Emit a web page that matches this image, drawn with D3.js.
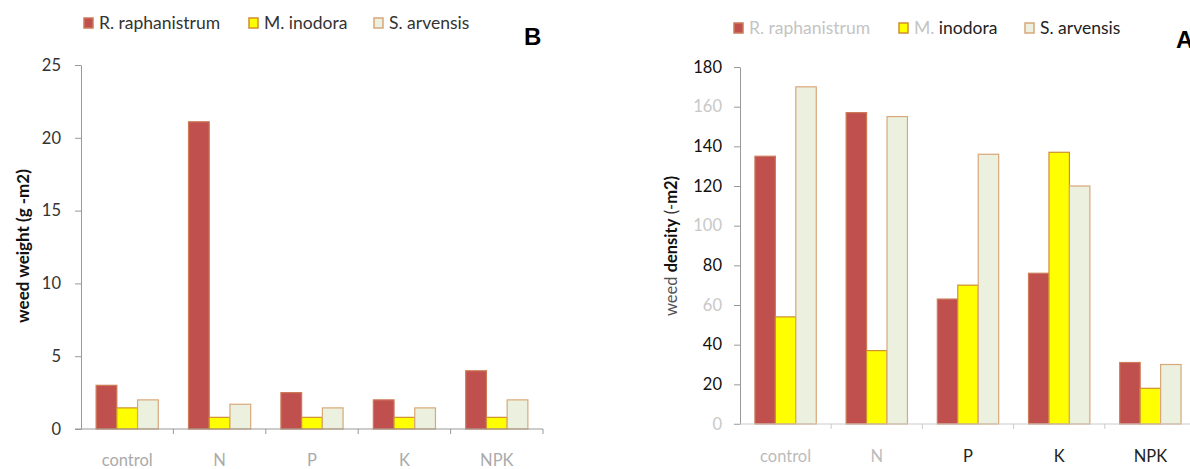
<!DOCTYPE html>
<html>
<head>
<meta charset="utf-8">
<script src="https://cdn.jsdelivr.net/npm/d3@7"></script>
<style>
  body { margin: 0; background: #fff; }
  svg { display: block; font-family: Lato, 'Open Sans', sans-serif; }
</style>
</head>
<body>
<svg id="chart" width="1190" height="469"></svg>
<script>
// treatments and species
const categories = ['control', 'N', 'P', 'K', 'NPK']
const species = ['R. raphanistrum', 'M. inodora', 'S. arvensis']

// panel B: weed weight (g m-2)
const weightR = [3.0, 21.1, 2.5, 2.0, 4.0]
const weightM = [1.45, 0.8, 0.8, 0.8, 0.8]
const weightS = [2.0, 1.7, 1.45, 1.45, 2.0]
const weightTicks = [0, 5, 10, 15, 20, 25]

// panel A: weed density (m-2)
const densityR = [135, 157, 63, 76, 31]
const densityM = [54, 37, 70, 137, 18]
const densityS = [170, 155, 136, 120, 30]
const densityTicks = [0, 20, 40, 60, 80, 100, 120, 140, 160, 180]

const fills = ['#C0504D', '#FFFF00', '#EBF1DE']
const strokes = ['#cc7a58', '#cf8f2e', '#d9a77a']

const svg = d3.select('#chart')

function toRows(seriesList) {
    return categories.map((c, i) => {
        const row = { cat: c }
        species.forEach((s, j) => { row[s] = seriesList[j][i] })
        return row
    })
}

function drawPanel(opts) {
    const g = svg.append('g')
    const x0 = d3.scaleBand().domain(categories).range(opts.xRange).padding(0)
    const x1 = d3.scaleBand().domain(species).range([0, x0.bandwidth()]).paddingInner(0).paddingOuter(0.73)
    const y = d3.scaleLinear().domain([0, opts.yMax]).range(opts.yRange)
    const rows = toRows(opts.series)

    // bars
    g.append('g')
        .selectAll('g')
        .data(rows)
        .join('g')
        .attr('transform', d => `translate(${x0(d.cat)},0)`)
        .selectAll('rect')
        .data(d => species.map((s, j) => ({ key: s, j, value: d[s] })))
        .join('rect')
        .attr('x', d => x1(d.key))
        .attr('width', x1.bandwidth())
        .attr('y', d => y(d.value))
        .attr('height', d => y(0) - y(d.value))
        .attr('fill', d => fills[d.j])
        .attr('stroke', d => strokes[d.j])
        .attr('stroke-width', 1.2)

    // y axis
    const yAxis = g.append('g')
        .attr('transform', `translate(${opts.xRange[0]},0)`)
        .call(d3.axisLeft(y).tickValues(opts.ticks).tickSize(6).tickPadding(opts.tickPad).tickSizeOuter(0))
    yAxis.select('.domain').attr('stroke', '#999')
    yAxis.selectAll('.tick line').attr('stroke', '#999')
    yAxis.selectAll('.tick text')
        .attr('font-size', 16.5)
        .attr('font-family', 'Lato, sans-serif')
        .attr('fill', (d, i) => opts.yTickColor(i))

    // x axis (ticks on category boundaries)
    const xg = g.append('g').attr('transform', `translate(0,${opts.yRange[0]})`)
    xg.append('line')
        .attr('x1', opts.xRange[0] - 6).attr('x2', opts.xRange[1])
        .attr('stroke', opts.xLineColor)
    xg.selectAll('line.tk')
        .data(categories.slice(1).concat(['end']))
        .join('line')
        .attr('class', 'tk')
        .attr('x1', d => d === 'end' ? opts.xRange[1] : x0(d))
        .attr('x2', d => d === 'end' ? opts.xRange[1] : x0(d))
        .attr('y1', 0).attr('y2', 5)
        .attr('stroke', opts.xLineColor)
    xg.selectAll('text')
        .data(categories)
        .join('text')
        .attr('x', d => x0(d) + x0.bandwidth() / 2)
        .attr('y', opts.xLabelY - opts.yRange[0])
        .attr('text-anchor', 'middle')
        .attr('font-size', 16.5)
        .attr('fill', (d, i) => opts.xLabelColor(i))
        .text(d => d)

    // legend
    const leg = g.append('g')
    species.forEach((s, j) => {
        const lx = opts.legendX[j]
        leg.append('rect')
            .attr('x', lx).attr('y', opts.legendY - 11)
            .attr('width', 9).attr('height', 10)
            .attr('fill', fills[j]).attr('stroke', strokes[j]).attr('stroke-width', 1.5)
        const t = leg.append('text')
            .attr('x', lx + 15).attr('y', opts.legendY)
            .attr('font-size', 17.5)
        opts.legendParts[j].forEach(p => {
            t.append('tspan').attr('fill', p[1]).text(p[0])
        })
    })

    // panel letter
    g.append('text')
        .attr('x', opts.letterX).attr('y', opts.letterY)
        .attr('font-family', "'Liberation Sans', Arial, sans-serif")
        .attr('font-weight', 'bold')
        .attr('font-size', 24)
        .attr('fill', '#000')
        .text(opts.letter)

    // y title
    const title = g.append('text')
        .attr('transform', `translate(${opts.titleX},${opts.titleY}) rotate(-90)`)
        .attr('text-anchor', 'middle')
        .attr('dominant-baseline', 'central')
        .attr('font-size', opts.titleSize)
    opts.titleParts.forEach(p => {
        title.append('tspan').attr('fill', p[1]).attr('font-weight', p[2]).text(p[0])
    })
}

// panel B (left)
drawPanel({
    series: [weightR, weightM, weightS],
    yMax: 25,
    ticks: weightTicks,
    xRange: [81, 543],
    yRange: [429, 65],
    tickPad: 14,
    yTickColor: () => '#333',
    xLineColor: '#999',
    xLabelY: 466,
    xLabelColor: () => '#aaa',
    legendX: [84, 249, 374],
    legendY: 29,
    legendParts: [[['R. raphanistrum', '#333']], [['M. inodora', '#333']], [['S. arvensis', '#333']]],
    letter: 'B',
    letterX: 524,
    letterY: 45,
    titleX: 22,
    titleY: 246,
    titleSize: 17,
    titleParts: [['weed weight (g -m2)', '#111', 'bold']]
})

// panel A (right)
const lightIdx = [0, 3, 5, 8]
drawPanel({
    series: [densityR, densityM, densityS],
    yMax: 180,
    ticks: densityTicks,
    xRange: [740, 1196],
    yRange: [424, 67],
    tickPad: 12,
    yTickColor: i => lightIdx.includes(i) ? '#c8c8c8' : '#111',
    xLineColor: '#ccc',
    xLabelY: 462,
    xLabelColor: i => i < 2 ? '#bbb' : '#222',
    legendX: [734, 899, 1025],
    legendY: 34,
    legendParts: [[['R. raphanistrum', '#c4c4c4']], [['M.', '#c4c4c4'], [' inodora', '#222']], [['S. arvensis', '#222']]],
    letter: 'A',
    letterX: 1176,
    letterY: 48,
    titleX: 671,
    titleY: 246,
    titleSize: 16.5,
    titleParts: [['weed ', '#555', 'normal'], ['density', '#111', 'bold'], [' (-', '#333', 'normal'], ['m2)', '#111', 'bold']]
})
</script>
</body>
</html>
